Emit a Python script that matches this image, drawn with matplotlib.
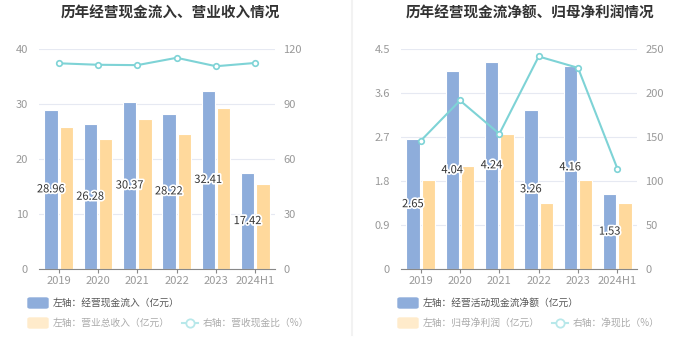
import matplotlib
matplotlib.use("Agg")
from matplotlib import pyplot as plt
from matplotlib.patches import FancyBboxPatch
from matplotlib.lines import Line2D
import matplotlib.patheffects as pe
import numpy as np

plt.rcParams['font.family'] = ['Noto Sans CJK SC', 'DejaVu Sans']

years = ['2019', '2020', '2021', '2022', '2023', '2024H1']

# left panel
cash_in = [28.96, 26.28, 30.37, 28.22, 32.41, 17.42]
revenue = [25.8, 23.6, 27.3, 24.5, 29.3, 15.5]
cash_rev_ratio = [112.2, 111.4, 111.2, 115.2, 110.6, 112.4]

# right panel
net_cash = [2.65, 4.04, 4.24, 3.26, 4.16, 1.53]
net_profit = [1.82, 2.11, 2.76, 1.35, 1.82, 1.34]
net_cash_ratio = [145.6, 191.5, 153.6, 241.5, 228.6, 114.2]

BLUE = '#8EADDB'
ORANGE = '#FFD99C'
TEAL = '#7ED3D6'
GRID = '#E6E9F2'
TICK = '#999999'

fig = plt.figure(figsize=(7, 3.6), dpi=100)


def draw_panel(left, title, bars1, bars2, line, yl_max, yl_step, yr_max, yr_step,
               leg1, leg2, leg3, leg_x, leg3_x, title_x):
    ax = fig.add_axes([left, 91 / 360, 236 / 700, 220 / 360])
    x = np.arange(len(years))
    w = 0.335
    off = 0.197
    ax.bar(x - off, bars1, w, color=BLUE, edgecolor='white', linewidth=0.8, zorder=2)
    ax.bar(x + off, bars2, w, color=ORANGE, edgecolor='white', linewidth=0.8, zorder=2)
    for xi, v in zip(x, bars1):
        ax.text(xi - off, v / 2, f'{v:.2f}', ha='center', va='center', fontsize=8,
                color='#333333', zorder=5,
                path_effects=[pe.withStroke(linewidth=2.5, foreground='white')])
    ax.set_xlim(-0.5, len(years) - 0.5)
    ax.set_ylim(0, yl_max)
    ticks = np.round(np.arange(0, yl_max + yl_step / 2, yl_step), 1)
    ax.set_yticks(ticks)
    ax.set_yticklabels([f'{t:g}' for t in ticks])
    ax.set_xticks(x)
    ax.set_xticklabels(years)
    ax.tick_params(axis='y', length=0, colors=TICK, labelsize=8, pad=8)
    ax.tick_params(axis='x', length=3, color='#888888', colors=TICK, labelsize=8, pad=2)
    for s in ['top', 'right', 'left']:
        ax.spines[s].set_visible(False)
    ax.spines['bottom'].set_color('#888888')
    ax.grid(axis='y', color=GRID, linewidth=0.8, zorder=0)
    ax.set_axisbelow(True)

    ax2 = ax.twinx()
    ax2.plot(x, line, color=TEAL, linewidth=1.5, marker='o', markersize=4,
             markerfacecolor='white', markeredgecolor=TEAL, markeredgewidth=1.2, zorder=4)
    ax2.set_ylim(0, yr_max)
    ax2.set_yticks(np.arange(0, yr_max + 1, yr_step))
    ax2.tick_params(axis='y', length=0, colors=TICK, labelsize=8, pad=6)
    for s in ['top', 'right', 'left', 'bottom']:
        ax2.spines[s].set_visible(False)

    fig.text(title_x, 1 - 13 / 360, title, ha='center', va='center', fontsize=10.5,
             fontweight='bold', color='#333333')

    # legend
    fig.patches.append(FancyBboxPatch((leg_x / 700, 1 - 308 / 360), 20 / 700, 10 / 360,
                                      boxstyle='round,pad=0,rounding_size=0.003',
                                      transform=fig.transFigure, color=BLUE))
    fig.text((leg_x + 25) / 700, 1 - 302.5 / 360, leg1, ha='left', va='center',
             fontsize=7, color='#555555')
    fig.patches.append(FancyBboxPatch((leg_x / 700, 1 - 328 / 360), 20 / 700, 10 / 360,
                                      boxstyle='round,pad=0,rounding_size=0.003',
                                      transform=fig.transFigure, color='#FFEBCB'))
    fig.text((leg_x + 25) / 700, 1 - 322.5 / 360, leg2, ha='left', va='center',
             fontsize=7, color='#AAAAAA')
    fig.lines.append(Line2D([leg3_x / 700, (leg3_x + 16) / 700], [1 - 322.5 / 360] * 2,
                            transform=fig.transFigure, color='#B8E8EA', linewidth=1.5))
    fig.lines.append(Line2D([(leg3_x + 8) / 700], [1 - 322.5 / 360],
                            transform=fig.transFigure, color='#B8E8EA', marker='o',
                            markersize=6, markerfacecolor='white', markeredgewidth=1.3))
    fig.text((leg3_x + 21) / 700, 1 - 322.5 / 360, leg3, ha='left', va='center',
             fontsize=7, color='#AAAAAA')


draw_panel(39 / 700, '历年经营现金流入、营业收入情况', cash_in, revenue, cash_rev_ratio,
           40, 10, 120, 30,
           '左轴：经营现金流入（亿元）', '左轴：营业总收入（亿元）', '右轴：营收现金比（%）',
           28, 182, 170 / 700)
draw_panel(401 / 700, '历年经营现金流净额、归母净利润情况', net_cash, net_profit, net_cash_ratio,
           4.5, 0.9, 250, 50,
           '左轴：经营活动现金流净额（亿元）', '左轴：归母净利润（亿元）', '右轴：净现比（%）',
           398, 552, 530 / 700)

fig.lines.append(Line2D([351.5 / 700] * 2, [1 - 335 / 360, 1], transform=fig.transFigure,
                        color='#F2F2F2', linewidth=1.5))

fig.savefig('out.png', dpi=100)
